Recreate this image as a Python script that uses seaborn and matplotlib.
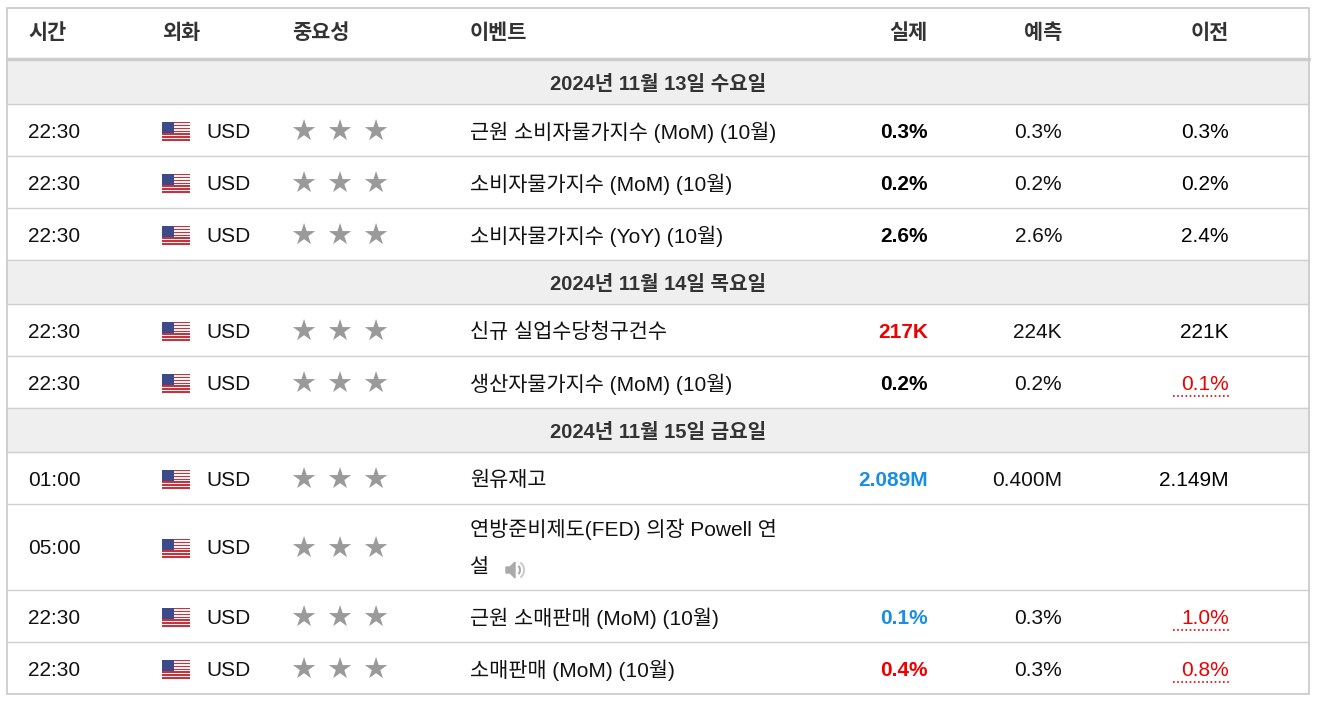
import matplotlib
matplotlib.use("Agg")
import matplotlib.pyplot as plt
import matplotlib.patches as mp
import seaborn as sns

sns.set_theme(style="white")
plt.rcParams['font.family'] = ['Liberation Sans', 'Noto Sans CJK KR', 'DejaVu Sans']

headers = ["시간", "외화", "중요성", "이벤트", "실제", "예측", "이전"]
dates = ["2024년 11월 13일 수요일", "2024년 11월 14일 목요일", "2024년 11월 15일 금요일"]
date_group = [0, 0, 0, 1, 1, 2, 2, 2, 2]
times = ["22:30", "22:30", "22:30", "22:30", "22:30", "01:00", "05:00", "22:30", "22:30"]
currency = ["USD"] * 9
events = ["근원 소비자물가지수 (MoM) (10월)", "소비자물가지수 (MoM) (10월)", "소비자물가지수 (YoY) (10월)",
          "신규 실업수당청구건수", "생산자물가지수 (MoM) (10월)", "원유재고",
          "연방준비제도(FED) 의장 Powell 연\n설", "근원 소매판매 (MoM) (10월)", "소매판매 (MoM) (10월)"]
actual = ["0.3%", "0.2%", "2.6%", "217K", "0.2%", "2.089M", "", "0.1%", "0.4%"]
actual_col = ["k", "k", "k", "r", "k", "b", "k", "b", "r"]
forecast = ["0.3%", "0.2%", "2.6%", "224K", "0.2%", "0.400M", "", "0.3%", "0.3%"]
previous = ["0.3%", "0.2%", "2.4%", "221K", "0.1%", "2.149M", "", "1.0%", "0.8%"]
prev_col = ["k", "k", "k", "k", "r", "k", "k", "r", "r"]
row_h = [52, 52, 52, 52, 52, 52, 86, 52, 52]

cmap = {"k": "#000000", "r": "#ee0000", "b": "#1a8fe0"}
W, H = 1318, 704
fig = plt.figure(figsize=(W/100, H/100), dpi=100)
ax = fig.add_axes([0, 0, 1, 1])
ax.set_xlim(0, W); ax.set_ylim(H, 0); ax.axis("off")
L, R = 7, 1309
FS = 15
hc = "#333333"

hx = [28, 162, 292, 470, 928, 1062, 1229]
for i, h in enumerate(headers):
    ax.text(hx[i], 33, h, ha="right" if i >= 4 else "left", va="center", fontsize=FS, color=hc, weight="bold")
ax.plot([L, R], [58.5, 58.5], color="#cccccc", lw=2.5)

y = 60
prev_g = -1
def star(x, yy):
    ax.text(x, yy, "★", ha="center", va="center", fontsize=21, color="#9a9a9a", family="DejaVu Sans")
for i in range(9):
    g = date_group[i]
    if g != prev_g:
        ax.add_patch(mp.Rectangle((L, y), R-L, 44, color="#efefef", zorder=0))
        ax.text((L+R)/2, y+24, dates[g], ha="center", va="center", fontsize=FS-0.5, weight="bold", color=hc)
        ax.plot([L, R], [y+44, y+44], color="#d0d0d0", lw=1)
        if y > 60:
            ax.plot([L, R], [y, y], color="#d0d0d0", lw=1)
        y += 44
        prev_g = g
    h = row_h[i]
    cy = y + h/2 + 2
    ax.text(28, cy, times[i], ha="left", va="center", fontsize=FS, color="#111")
    fx, fy, fw, fh = 162, cy-10, 28, 20
    for s in range(7):
        ax.add_patch(mp.Rectangle((fx, fy + s*fh/7), fw, fh/14, color="#c8323c", lw=0))
        ax.add_patch(mp.Rectangle((fx, fy + s*fh/7 + fh/14), fw, fh/14, color="#f4f4f4", lw=0))
    ax.add_patch(mp.Rectangle((fx, fy), 12, 11, color="#3c4a8a", lw=0))
    ax.text(206, cy, currency[i], ha="left", va="center", fontsize=FS, color="#111")
    for sx in (303, 339, 375):
        star(sx, cy+1)
    if "\n" in events[i]:
        l1, l2 = events[i].split("\n")
        ax.text(470, y+25, l1, ha="left", va="center", fontsize=FS, color="#111")
        ax.text(470, y+64, l2, ha="left", va="center", fontsize=FS, color="#111")
        sx0, sy0 = 506, y+66
        ax.add_patch(mp.Polygon([(sx0, sy0-3), (sx0+4, sy0-3), (sx0+9, sy0-8), (sx0+9, sy0+8), (sx0+4, sy0+3), (sx0, sy0+3)], color="#aaaaaa"))
        ax.add_patch(mp.Arc((sx0+10, sy0), 8, 10, theta1=-60, theta2=60, color="#aaaaaa", lw=1.5))
        ax.add_patch(mp.Arc((sx0+10, sy0), 16, 18, theta1=-60, theta2=60, color="#cccccc", lw=1.5))
    else:
        ax.text(470, cy, events[i], ha="left", va="center", fontsize=FS, color="#111")
    ax.text(928, cy, actual[i], ha="right", va="center", fontsize=FS, weight="bold", color=cmap[actual_col[i]])
    ax.text(1062, cy, forecast[i], ha="right", va="center", fontsize=FS, color="#111")
    ax.text(1229, cy, previous[i], ha="right", va="center", fontsize=FS, color=cmap[prev_col[i]])
    if prev_col[i] == "r":
        ax.plot([1173, 1229], [cy+12, cy+12], color="#ee0000", lw=1.2, ls=(0, (1, 1.5)))
    y += h
    if i < 8 and date_group[i+1] == g:
        ax.plot([L, R], [y, y], color="#d0d0d0", lw=1)

ax.add_patch(mp.Rectangle((L, 8), R-L, y-8, fill=False, ec="#c8c8c8", lw=1.2))
fig.savefig("out.png", dpi=100)
